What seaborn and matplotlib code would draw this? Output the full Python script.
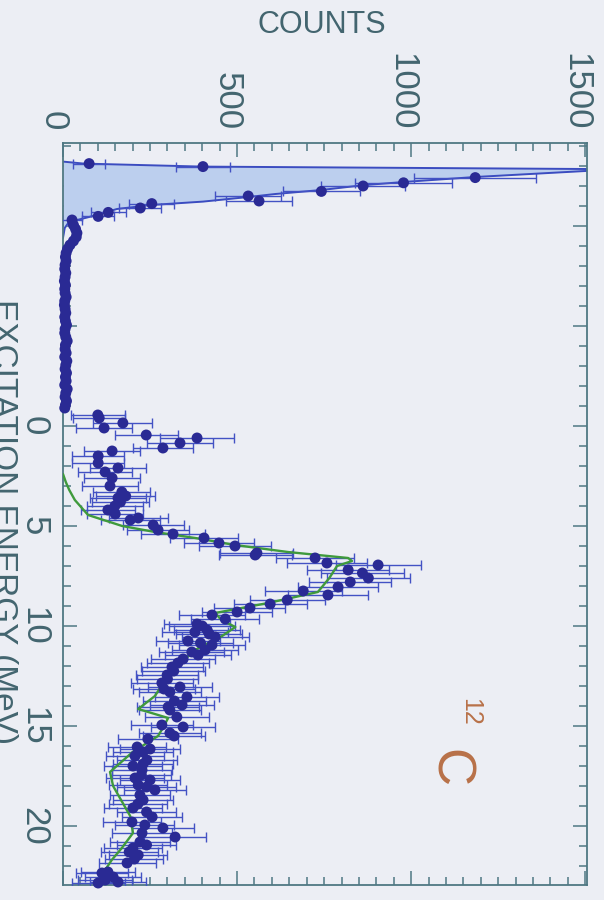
import matplotlib
matplotlib.use("Agg")
import matplotlib.pyplot as plt
import matplotlib.transforms as mtrans
from matplotlib.ticker import MultipleLocator
import seaborn as sns
import pandas as pd

# ---------------- data ----------------
# elastic peak curve (excitation energy MeV, counts)
peak_E = [-13.22, -13.12, -12.97, -12.85, -12.80, -12.75, -12.45, -12.20, -12.04,
          -11.80, -11.60, -11.45, -11.22, -11.05, -10.85, -10.45, -10.20, -9.90, -9.40]
peak_c = [0, 60, 400, 1500, 1650, 1500, 1184, 978, 862,
          742, 610, 532, 402, 253, 155, 75, 17, 5, 0]

# elastic peak data points
el_E = [-13.12, -12.97, -12.42, -12.16, -12.00, -11.73, -11.50, -11.25, -11.12,
        -10.90, -10.68, -10.48, -10.30]
el_c = [75, 402, 1184, 978, 862, 742, 532, 563, 255, 222, 130, 101, 26]
el_err = [45, 77, 175, 140, 120, 110, 95, 95, 65, 60, 50, 45, 30]

# near-zero band between elastic peak and 0 MeV
band_E = [-10.05, -9.85, -9.65, -9.45, -9.25, -9.05, -8.85, -8.65, -8.45, -8.25,
          -8.05, -7.85, -7.65, -7.45, -7.25, -7.05, -6.85, -6.65, -6.45, -6.25,
          -6.05, -5.85, -5.65, -5.45, -5.25, -5.05, -4.85, -4.65, -4.45, -4.25,
          -4.05, -3.85, -3.65, -3.45, -3.25, -3.05, -2.85, -2.65, -2.45, -2.25,
          -2.05, -1.85, -1.65, -1.45, -1.25, -1.05, -0.90]
band_c = [30, 36, 40, 38, 30, 20, 13, 9, 7, 9,
          6, 5, 8, 6, 4, 7, 5, 6, 9, 5,
          4, 6, 8, 5, 7, 10, 6, 5, 8, 12,
          7, 6, 9, 5, 11, 8, 6, 10, 7, 9,
          5, 12, 8, 6, 10, 7, 5]

# inelastic spectrum points
inel_E = [-0.55, -0.40, -0.15, 0.10, 0.45, 0.60, 0.85, 1.10, 1.25, 1.50,
          1.85, 2.10, 2.30, 2.60, 3.00, 3.30, 3.50, 3.60, 3.80, 4.00,
          4.20, 4.40, 4.60, 4.70, 4.95, 5.20, 5.40, 5.60, 5.85, 6.00,
          6.35, 6.45, 6.60, 6.85, 6.95, 7.20, 7.35, 7.60, 7.80, 8.05,
          8.25, 8.45, 8.70, 8.90, 9.10, 9.30, 9.45, 9.65, 9.90, 10.00,
          10.20, 10.30, 10.40, 10.55, 10.75, 10.85, 10.95, 11.20, 11.30, 11.45,
          11.65, 11.85, 12.05, 12.25, 12.45, 12.65, 12.85, 13.05, 13.15, 13.30,
          13.55, 13.75, 13.95, 14.05, 14.20, 14.55, 14.95, 15.05, 15.35, 15.50,
          15.65, 16.05, 16.15, 16.30, 16.50, 16.70, 16.90, 17.00, 17.20, 17.45,
          17.60, 17.70, 17.95, 18.05, 18.20, 18.45, 18.70, 18.90, 19.10, 19.30,
          19.55, 19.80, 19.95, 20.10, 20.35, 20.55, 20.80, 20.95, 21.10, 21.30,
          21.45, 21.65, 21.85, 22.30, 22.35, 22.55, 22.70, 22.80, 22.85]
inel_c = [100, 104, 172, 118, 239, 385, 336, 287, 141, 101,
          101, 158, 121, 141, 135, 169, 180, 158, 165, 149,
          129, 150, 216, 193, 259, 273, 316, 405, 448, 494,
          557, 552, 724, 758, 905, 819, 860, 877, 825, 790,
          690, 761, 644, 595, 537, 500, 428, 466, 385, 400,
          414, 379, 420, 437, 359, 395, 428, 408, 370, 388,
          345, 330, 313, 318, 299, 300, 284, 336, 290, 307,
          356, 320, 342, 302, 307, 327, 284, 345, 307, 319,
          244, 213, 250, 230, 207, 241, 230, 201, 227, 225,
          207, 250, 216, 240, 264, 221, 230, 215, 201, 240,
          256, 198, 235, 287, 227, 322, 221, 240, 201, 190,
          216, 205, 184, 129, 112, 144, 121, 158, 101]
inel_err = [78, 75, 85, 80, 90, 105, 95, 85, 80, 75,
            75, 80, 78, 80, 80, 82, 85, 80, 82, 80,
            78, 80, 85, 85, 88, 88, 92, 98, 100, 102,
            105, 105, 112, 115, 122, 118, 120, 120, 118, 116,
            110, 115, 108, 105, 102, 100, 96, 98, 94, 95,
            95, 94, 95, 96, 92, 94, 96, 95, 93, 94,
            92, 90, 90, 90, 88, 88, 88, 92, 88, 90,
            92, 90, 92, 90, 90, 92, 88, 92, 90, 90,
            86, 84, 86, 85, 84, 86, 85, 84, 85, 85,
            84, 86, 84, 85, 88, 85, 85, 84, 84, 85,
            86, 84, 85, 88, 85, 90, 85, 85, 84, 82,
            84, 83, 82, 78, 76, 80, 78, 80, 76]

# model curve (green)
fit_E = [2.4, 2.8, 3.2, 3.7, 4.45, 5.0, 5.3, 5.6, 5.95, 6.3,
         6.6, 6.75, 7.0, 7.6, 8.3, 8.85, 9.35, 9.7, 10.05, 10.5,
         11.2, 12.0, 12.8, 13.5, 14.15, 14.6, 15.0, 15.5, 16.3, 17.3,
         18.0, 18.8, 19.5, 20.35, 21.1, 21.7, 22.2, 22.8]
fit_c = [0, 8, 18, 34, 72, 170, 264, 380, 494, 646,
         819, 830, 787, 765, 732, 589, 437, 455, 495, 457,
         379, 330, 290, 264, 216, 302, 290, 273, 200, 135,
         144, 170, 193, 201, 169, 140, 121, 101]

x_ticks = [0, 500, 1000, 1500]
y_ticks = [-10, -5, 0, 5, 10, 15, 20]
y_labels = ["", "", "0", "5", "10", "15", "20"]

# ---------------- style ----------------
bg = "#eceef4"
axis_c = "#4f7883"
text_c = "#43656f"
dot_c = "#2a2a94"
bar_c = "#4352c4"
fill_c = "#bccfee"
edge_c = "#3b4cc0"
green_c = "#3f9a3c"
label_c = "#b87148"

sns.set_style("ticks")
plt.rcParams["font.family"] = ["Liberation Sans", "DejaVu Sans"]

fig = plt.figure(figsize=(6.04, 9.0), dpi=100, facecolor=bg)
ax = fig.add_axes([63 / 604, 1 - 885 / 900, 524 / 604, 742 / 900])
ax.set_facecolor(bg)

# elastic peak shaded curve
ax.fill_betweenx(peak_E, 0, peak_c, color=fill_c, lw=0, zorder=1)
sns.lineplot(x=peak_c, y=peak_E, orient="y", sort=False, estimator=None,
             color=edge_c, lw=1.4, ax=ax, zorder=2)

# error bars
all_E = el_E + inel_E
all_c = el_c + inel_c
all_err = el_err + inel_err
ax.errorbar(all_c, all_E, xerr=all_err, fmt="none", ecolor=bar_c,
            elinewidth=1.0, capsize=3.4, capthick=1.0, zorder=3)

# green model curve
sns.lineplot(x=fit_c, y=fit_E, orient="y", sort=False, estimator=None,
             color=green_c, lw=1.7, ax=ax, zorder=4)

# data points
pts = pd.DataFrame({"E": el_E + band_E + inel_E, "counts": el_c + band_c + inel_c})
sns.scatterplot(data=pts, x="counts", y="E", s=62, color=dot_c, edgecolor="none",
                linewidth=0, ax=ax, zorder=5, clip_on=False)

# axes
ax.set_xlim(0, 1505)
ax.set_ylim(22.95, -14.15)
ax.set_xlabel("")
ax.set_ylabel("")
ax.set_xticks(x_ticks)
ax.set_xticklabels([str(v) for v in x_ticks], rotation=-90, fontsize=25, color=text_c)
ax.xaxis.set_minor_locator(MultipleLocator(50))
ax.set_yticks(y_ticks)
ax.set_yticklabels(y_labels, rotation=-90, fontsize=25, color=text_c, va="center", ha="right")
ax.yaxis.set_minor_locator(MultipleLocator(1))
ax.tick_params(which="both", direction="in", top=True, bottom=True, left=True, right=True,
               labeltop=True, labelbottom=False, labelleft=True, labelright=False,
               color=axis_c, width=1.1)
ax.tick_params(which="major", length=10, pad=9)
ax.tick_params(which="minor", length=5.5)
shift = mtrans.ScaledTranslation(-7 / 72, 0, fig.dpi_scale_trans)
for tk in ax.xaxis.get_major_ticks():
    tk.label2.set_rotation(-90)
    tk.label2.set_transform(tk.label2.get_transform() + shift)
for sp in ax.spines.values():
    sp.set_color(axis_c)
    sp.set_linewidth(1.3)
    sp.set_visible(True)

# texts
fig.text(322 / 604, 1 - 33 / 900, "COUNTS", ha="center", va="baseline",
         fontsize=22, color=text_c)
fig.text(-6 / 604, 1 - 522 / 900, "EXCITATION ENERGY (MeV)", rotation=-90,
         rotation_mode="anchor", ha="center", va="baseline", fontsize=24, color=text_c)
fig.text(463 / 604, 1 - 712 / 900, "12", rotation=-90, rotation_mode="anchor",
         ha="center", va="baseline", fontsize=18, color=label_c)
fig.text(435 / 604, 1 - 768 / 900, "C", rotation=-90, rotation_mode="anchor",
         ha="center", va="baseline", fontsize=38, color=label_c)

fig.savefig("out.png", dpi=100, facecolor=bg)
